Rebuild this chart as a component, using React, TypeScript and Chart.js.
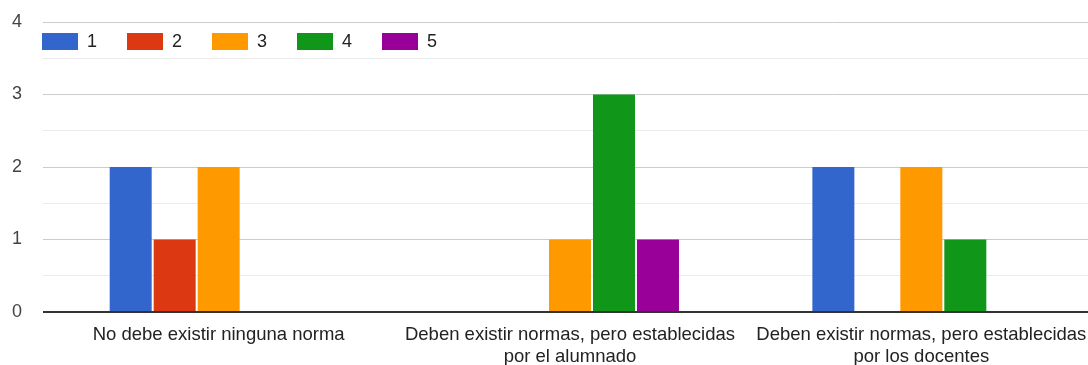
import React, { useEffect, useRef } from "react";
import { Chart, registerables } from "chart.js";

Chart.register(...registerables);

const categories: (string | string[])[] = [
  "No debe existir ninguna norma",
  ["Deben existir normas, pero establecidas", "por el alumnado"],
  ["Deben existir normas, pero establecidas", "por los docentes"],
];

const seriesLabels = ["1", "2", "3", "4", "5"];
const seriesColors = ["#3366cc", "#dc3912", "#ff9900", "#109618", "#990099"];

const series1 = [2, 0, 2];
const series2 = [1, 0, 0];
const series3 = [2, 1, 2];
const series4 = [0, 3, 1];
const series5 = [0, 1, 0];

const yMin = 0;
const yMax = 4;
const yStep = 0.5;

const FONT = "'Liberation Sans', Arial, Helvetica, sans-serif";

const inlineLegend = {
  id: "inlineLegend",
  afterDraw(chart: any) {
    const ctx = chart.ctx;
    ctx.save();
    chart.data.datasets.forEach((ds: any, i: number) => {
      const x = 42 + i * 85;
      ctx.fillStyle = ds.backgroundColor;
      ctx.fillRect(x, 33, 36, 17);
      ctx.fillStyle = "#222222";
      ctx.font = `18px ${FONT}`;
      ctx.textBaseline = "middle";
      ctx.textAlign = "left";
      ctx.fillText(ds.label, x + 45, 42);
    });
    ctx.restore();
  },
};

export default function App() {
  const ref = useRef<HTMLCanvasElement | null>(null);

  useEffect(() => {
    if (!ref.current) return;
    const values = [series1, series2, series3, series4, series5];
    const chart = new Chart(ref.current, {
      type: "bar",
      data: {
        labels: categories,
        datasets: values.map((v, i) => ({
          label: seriesLabels[i],
          data: v,
          backgroundColor: seriesColors[i],
          borderWidth: 0,
          barPercentage: 0.955,
          categoryPercentage: 0.626,
        })),
      },
      options: {
        animation: false,
        responsive: false,
        maintainAspectRatio: false,
        layout: { padding: { top: 22, right: 0, left: 0, bottom: 0 } },
        plugins: {
          legend: { display: false },
          tooltip: { enabled: false },
        },
        scales: {
          x: {
            grid: { display: false, drawTicks: false },
            border: { display: false },
            ticks: {
              autoSkip: false,
              maxRotation: 0,
              minRotation: 0,
              padding: 12,
              color: "#222222",
              font: { family: FONT, size: 18.5, lineHeight: 22 / 18.5 },
            },
            afterFit(scale: any) {
              scale.height = 53;
              scale.paddingLeft = 0;
              scale.paddingRight = 0;
            },
          },
          y: {
            min: yMin,
            max: yMax,
            border: { display: false },
            grid: {
              drawTicks: false,
              color: (ctx: any) => {
                const v = ctx.tick ? ctx.tick.value : 0;
                if (v === 0) return "#333333";
                if (v % 1 === 0) return "#cccccc";
                return "#ebebeb";
              },
              lineWidth: (ctx: any) => {
                const v = ctx.tick ? ctx.tick.value : 0;
                return v === 0 ? 2 : 1;
              },
            },
            ticks: {
              stepSize: yStep,
              padding: 21,
              color: "#444444",
              font: { family: FONT, size: 18 },
              callback: (val: any) => (Number(val) % 1 === 0 ? String(val) : ""),
            },
            afterFit(scale: any) {
              scale.width = 43;
              scale.paddingTop = 0;
              scale.paddingBottom = 0;
            },
          },
        },
      },
      plugins: [inlineLegend],
    });
    return () => chart.destroy();
  }, []);

  return (
    <div style={{ position: "fixed", left: 0, top: 0, width: 1097, height: 365, background: "#fff" }}>
      <canvas ref={ref} width={1097} height={365} style={{ display: "block" }} />
    </div>
  );
}
